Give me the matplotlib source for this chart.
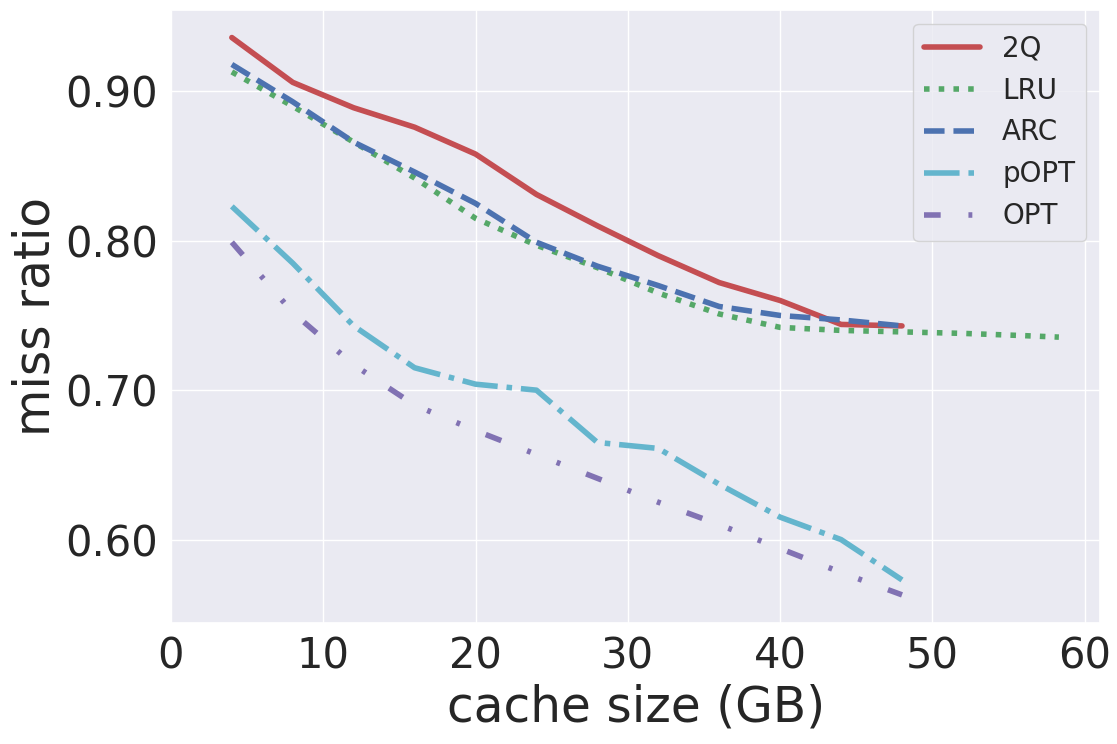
import numpy as np
import matplotlib
matplotlib.use("Agg")
import matplotlib.pyplot as plt
import seaborn as sns

sns.set(style="darkgrid", color_codes=True)

# cache sizes in GB
sizes = [4, 8, 12, 16, 20, 24, 28, 32, 36, 40, 44, 48]
sizes_lru = sizes + [52, 56, 58.3]

miss_2q = [0.936, 0.906, 0.889, 0.876, 0.858, 0.831, 0.810, 0.790, 0.772, 0.760, 0.744, 0.743]
miss_lru = [0.913, 0.890, 0.866, 0.842, 0.815, 0.797, 0.782, 0.765, 0.751, 0.742, 0.740, 0.739,
            0.738, 0.7365, 0.7355]
miss_arc = [0.918, 0.893, 0.866, 0.846, 0.825, 0.799, 0.783, 0.770, 0.756, 0.750, 0.747, 0.743]
miss_popt = [0.823, 0.785, 0.743, 0.715, 0.704, 0.700, 0.665, 0.661, 0.637, 0.615, 0.600, 0.573]
miss_opt = [0.799, 0.752, 0.717, 0.690, 0.673, 0.657, 0.641, 0.625, 0.610, 0.594, 0.578, 0.563]

fig = plt.figure(figsize=(11.17, 7.44), dpi=100)
ax = fig.add_axes([0.153, 0.163, 0.832, 0.824])

lw = 4
ax.plot(sizes, miss_2q, "r-", lw=lw, label="2Q")
ax.plot(sizes_lru, miss_lru, "g:", lw=lw, label="LRU")
ax.plot(sizes, miss_arc, "b--", lw=lw, label="ARC")
ax.plot(sizes, miss_popt, "c-.", lw=lw, label="pOPT")
ax.plot(sizes, miss_opt, color="m", lw=lw, linestyle=(0, (3, 5, 0.7, 5, 0.7, 5)), label="OPT")

ax.set_xlim(left=0)
ax.set_yticks([0.6, 0.7, 0.8, 0.9])
ax.yaxis.set_major_formatter(plt.FormatStrFormatter("%.2f"))
ax.tick_params(labelsize=30)
ax.set_xlabel("cache size (GB)", fontsize=35)
ax.set_ylabel("miss ratio", fontsize=35)
ax.legend(loc="upper right", fontsize=20)

fig.savefig("out.png", dpi=100)
